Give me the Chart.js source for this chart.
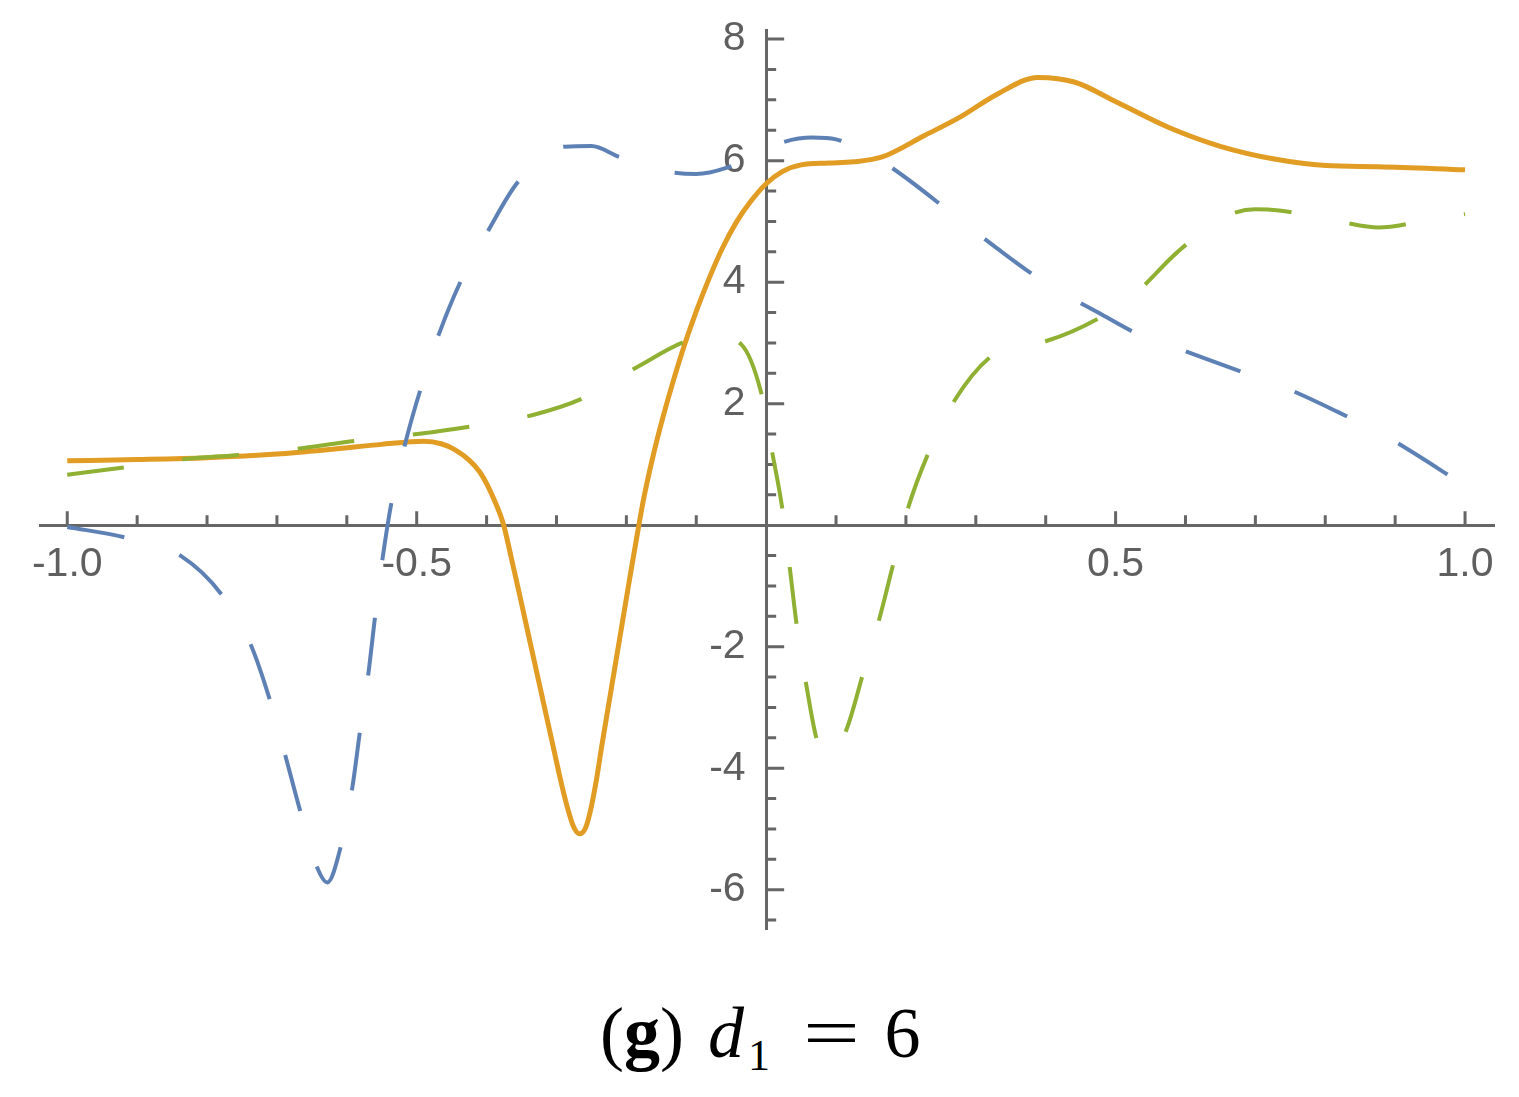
<!DOCTYPE html>
<html>
<head>
<meta charset="utf-8">
<script src="https://cdn.jsdelivr.net/npm/chart.js@4"></script>
<style>
  html, body { margin: 0; padding: 0; background: #ffffff; }
  #wrap { position: relative; width: 1519px; height: 1097px; overflow: hidden; }
  #chartBox { position: absolute; left: 0; top: 0; width: 1519px; height: 960px; }
  #caption {
    position: absolute; left: 600px; top: 985px;
    font-family: "Liberation Serif", "DejaVu Serif", serif; font-size: 72px; color: #000;
    white-space: nowrap; line-height: 96px;
  }
  #caption .b { font-weight: bold; }
  #caption .i { font-style: italic; margin-left: 24px; }
  #caption sub { font-size: 44px; vertical-align: -13px; line-height: 0; margin-left: 4px; }
  #caption .eq { display: inline-block; transform: scaleX(1.4); margin-left: 41px; }
  #caption .six { margin-left: 33px; }
</style>
</head>
<body>
<div id="wrap">
  <div id="chartBox"><canvas id="c"></canvas></div>
  <div id="caption">(<span class="b">g</span>)<span class="i">d</span><sub>1</sub><span class="eq">=</span><span class="six">6</span></div>
</div>
<script>
// ---- data ----
const orangeX = [-1.0, -0.9, -0.8, -0.7, -0.62, -0.55, -0.49, -0.465, -0.445, -0.425, -0.41, -0.398, -0.387, -0.376, -0.365, -0.355, -0.345, -0.335, -0.325, -0.315, -0.305, -0.295, -0.285, -0.276, -0.267, -0.258, -0.251, -0.243, -0.235, -0.225, -0.215, -0.205, -0.195, -0.185, -0.175, -0.163, -0.149, -0.134, -0.117, -0.099, -0.082, -0.063, -0.043, -0.022, 0.0, 0.023, 0.05, 0.09, 0.125, 0.166, 0.226, 0.278, 0.330, 0.389, 0.442, 0.502, 0.577, 0.651, 0.725, 0.801, 0.876, 1.0];
const orangeY = [1.06, 1.08, 1.11, 1.17, 1.25, 1.33, 1.38, 1.34, 1.24, 1.07, 0.88, 0.64, 0.36, 0.02, -0.52, -1.03, -1.55, -2.07, -2.59, -3.11, -3.63, -4.15, -4.62, -4.95, -5.08, -4.97, -4.68, -4.20, -3.62, -2.93, -2.24, -1.55, -0.86, -0.19, 0.45, 1.08, 1.72, 2.33, 2.96, 3.55, 4.05, 4.55, 4.98, 5.33, 5.62, 5.82, 5.93, 5.96, 5.98, 6.06, 6.41, 6.72, 7.09, 7.37, 7.29, 6.96, 6.54, 6.23, 6.03, 5.92, 5.90, 5.85];

const blueX = [-1.0, -0.918, -0.837, -0.778, -0.737, -0.710, -0.688, -0.667, -0.644, -0.628, -0.608, -0.592, -0.581, -0.569, -0.559, -0.549, -0.536, -0.515, -0.495, -0.469, -0.436, -0.398, -0.355, -0.288, -0.25, -0.21, -0.142, -0.10, -0.057, 0.023, 0.066, 0.10, 0.14, 0.18, 0.266, 0.33, 0.398, 0.475, 0.542, 0.581, 0.662, 0.741, 0.815, 0.89, 1.0];
const blueY = [-0.03, -0.20, -0.51, -1.16, -1.98, -2.88, -3.79, -4.69, -5.59, -5.88, -5.26, -4.31, -3.38, -2.43, -1.45, -0.56, 0.38, 1.41, 2.22, 3.12, 4.04, 4.84, 5.65, 6.23, 6.24, 6.06, 5.82, 5.78, 5.88, 6.30, 6.38, 6.35, 6.15, 5.88, 5.13, 4.56, 4.00, 3.50, 3.09, 2.94, 2.60, 2.27, 1.88, 1.44, 0.65];

const greenX = [-1.0, -0.918, -0.831, -0.751, -0.662, -0.587, -0.499, -0.419, -0.335, -0.262, -0.185, -0.114, -0.075, -0.036, -0.006, 0.009, 0.023, 0.034, 0.044, 0.057, 0.073, 0.092, 0.116, 0.139, 0.162, 0.183, 0.203, 0.233, 0.270, 0.322, 0.36, 0.403, 0.475, 0.528, 0.588, 0.655, 0.70, 0.734, 0.82, 0.876, 0.946, 1.0];
const greenY = [0.83, 0.95, 1.09, 1.16, 1.27, 1.39, 1.50, 1.63, 1.81, 2.09, 2.60, 3.03, 3.12, 2.98, 2.13, 1.18, 0.28, -0.72, -1.67, -2.60, -3.55, -3.85, -3.33, -2.43, -1.54, -0.59, 0.28, 1.21, 2.06, 2.78, 2.95, 3.04, 3.40, 3.81, 4.49, 5.07, 5.20, 5.18, 5.00, 4.90, 5.02, 5.12];

// ---- ticks ----
const xTickValues = [-1.0, -0.9, -0.8, -0.7, -0.6, -0.5, -0.4, -0.3, -0.2, -0.1, 0.1, 0.2, 0.3, 0.4, 0.5, 0.6, 0.7, 0.8, 0.9, 1.0];
const xLabelValues = [-1.0, -0.5, 0.5, 1.0];
const xLabelTexts = ["-1.0", "-0.5", "0.5", "1.0"];
const yTickValues = [-6.5, -6, -5.5, -5, -4.5, -4, -3.5, -3, -2.5, -2, -1.5, -1, -0.5, 0.5, 1, 1.5, 2, 2.5, 3, 3.5, 4, 4.5, 5, 5.5, 6, 6.5, 7, 7.5, 8];
const yLabelValues = [-6, -4, -2, 2, 4, 6, 8];
const yLabelTexts = ["-6", "-4", "-2", "2", "4", "6", "8"];

function pts(xs, ys) { return xs.map((x, i) => ({x: x, y: ys[i]})); }
function findLabel(values, texts, v) {
  for (let i = 0; i < values.length; i++) if (Math.abs(values[i] - v) < 1e-6) return texts[i];
  return '';
}

const AXIS_COLOR = '#666666';
const LABEL_COLOR = '#5f5f5f';

const tickMarks = {
  id: 'tickMarks',
  beforeDatasetsDraw(chart) {
    const ctx = chart.ctx;
    const xs = chart.scales.x, ys = chart.scales.y;
    const x0 = xs.getPixelForValue(0), y0 = ys.getPixelForValue(0);
    ctx.save();
    ctx.strokeStyle = AXIS_COLOR;
    ctx.lineWidth = 3;
    ctx.beginPath();
    xTickValues.forEach(v => {
      const px = xs.getPixelForValue(v);
      const major = findLabel(xLabelValues, xLabelTexts, v) !== '';
      const len = major ? 14 : 10;
      ctx.moveTo(px, y0);
      ctx.lineTo(px, y0 - len);
    });
    yTickValues.forEach(v => {
      const py = ys.getPixelForValue(v);
      const major = findLabel(yLabelValues, yLabelTexts, v) !== '';
      const len = major ? 18 : 10;
      ctx.moveTo(x0, py);
      ctx.lineTo(x0 + len, py);
    });
    ctx.stroke();
    ctx.restore();
  }
};

const tickFont = { family: "'Liberation Sans', Arial, sans-serif", size: 41 };

new Chart(document.getElementById('c'), {
  type: 'line',
  data: {
    datasets: [
      { label: 'blue', data: pts(blueX, blueY), borderColor: '#5E81B5', borderWidth: 4, borderDash: [58, 58], pointRadius: 0, cubicInterpolationMode: 'monotone', fill: false },
      { label: 'green', data: pts(greenX, greenY), borderColor: '#8FB032', borderWidth: 4, borderDash: [57, 59], pointRadius: 0, cubicInterpolationMode: 'monotone', fill: false },
      { label: 'orange', data: pts(orangeX, orangeY), borderColor: '#E19C24', borderWidth: 5, pointRadius: 0, cubicInterpolationMode: 'monotone', fill: false }
    ]
  },
  options: {
    responsive: true,
    maintainAspectRatio: false,
    animation: false,
    layout: { padding: { left: 40, right: 26, top: 30, bottom: 32 } },
    plugins: { legend: { display: false }, tooltip: { enabled: false } },
    scales: {
      x: {
        type: 'linear', min: -1.039, max: 1.04,
        position: { y: 0 },
        grid: { display: false, drawTicks: false, lineWidth: 3 },
        border: { display: true, color: AXIS_COLOR, width: 3 },
        afterBuildTicks: (s) => { s.ticks = xTickValues.map(v => ({ value: v })); },
        ticks: {
          autoSkip: false, maxRotation: 0, padding: 15, color: LABEL_COLOR, font: tickFont,
          callback: (v) => findLabel(xLabelValues, xLabelTexts, v)
        }
      },
      y: {
        type: 'linear', min: -6.63, max: 8.15,
        position: { x: 0 },
        grid: { display: false, drawTicks: false, lineWidth: 3 },
        border: { display: true, color: AXIS_COLOR, width: 3 },
        afterBuildTicks: (s) => { s.ticks = yTickValues.map(v => ({ value: v })); },
        ticks: {
          autoSkip: false, color: LABEL_COLOR, font: tickFont,
          callback: (v) => { const t = findLabel(yLabelValues, yLabelTexts, v); return t ? t + '\u2002' : ''; }
        }
      }
    }
  },
  plugins: [tickMarks]
});
</script>
</body>
</html>
